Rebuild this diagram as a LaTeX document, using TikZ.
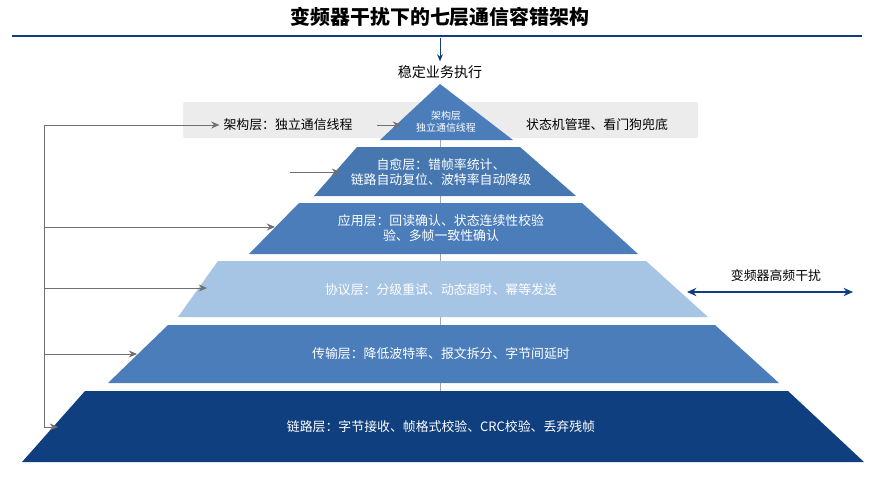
\documentclass[tikz,border=0pt]{standalone}
\usepackage{fontspec}
\setmainfont{Noto Sans CJK SC}
\usetikzlibrary{positioning,arrows.meta}
\definecolor{navy}{HTML}{0F3F7E}
\definecolor{midblue}{HTML}{4A7DBA}
\definecolor{lightblue}{HTML}{A6C4E4}
\definecolor{grayarrow}{HTML}{707070}
\tikzset{
	lbl/.style={text=white, font=\fontsize{11}{13}\selectfont, align=center},
	fb/.style={draw=grayarrow, line width=0.8pt, -{Stealth[length=7pt,width=6pt]}}
}
\begin{document}
\begin{tikzpicture}[x=0.03cm, y=-0.03cm]
			\useasboundingbox (0,0) rectangle (877,477);
			\fill[white] (0,0) rectangle (877,477);
			
			\node[font=\fontsize{17}{20}\selectfont\bfseries] (title) at (440,17) {变频器干扰下的七层通信容错架构};
			\draw[navy, line width=1.6pt] (12,36) -- (862,36);
			\node[font=\fontsize{12}{14}\selectfont] (goal) at (440,72) {稳定业务执行};
			\coordinate (top) at (440,38);
			\draw[navy, line width=0.8pt, -{Stealth[length=6pt,width=5pt]}] (top) -- (goal.north);
			
			\fill[gray!15, rounded corners=2pt] (183,102) rectangle (698,138);
			\draw[gray!70, line width=0.8pt] (440,140) -- (440,391);
			
			\fill[midblue] (440,84) -- (513,140) -- (380,140) -- cycle;
			\fill[midblue!95!black] (357,147) -- (520,147) -- (576,196) -- (314,196) -- cycle;
			\fill[midblue] (299,203) -- (582,203) -- (638,254) -- (249,254) -- cycle;
			\fill[lightblue] (218,261) -- (646,261) -- (708,317) -- (178,317) -- cycle;
			\fill[midblue] (168,325) -- (715,325) -- (779,383) -- (108,383) -- cycle;
			\fill[navy] (85,391) -- (788,391) -- (864,462) -- (22,462) -- cycle;
			
			\node[lbl, font=\fontsize{8.5}{10}\selectfont] (1) at (446,122) {架构层\\独立通信线程};
			\node[font=\fontsize{11}{13}\selectfont] (1l) at (288,125) {架构层：独立通信线程};
			\node[font=\fontsize{11}{13}\selectfont] (1r) at (597,125) {状态机管理、看门狗兜底};
			\node[lbl] (2) at (441,172) {自愈层：错帧率统计、\\链路自动复位、波特率自动降级};
			\node[lbl] (3) at (441,228) {应用层：回读确认、状态连续性校验\\验、多帧一致性确认};
			\node[lbl] (4) at (441,290) {协议层：分级重试、动态超时、幂等发送};
			\node[lbl] (5) at (441,354) {传输层：降低波特率、报文拆分、字节间延时};
			\node[lbl] (6) at (441,427) {链路层：字节接收、帧格式校验、CRC校验、丢弃残帧};
			\node[font=\fontsize{11}{13}\selectfont] (emi) at (776,276) {变频器高频干扰};
			
			\coordinate (f1) at (44,125);
			\coordinate (f3) at (44,227);
			\coordinate (f4) at (44,288);
			\coordinate (f5) at (44,354);
			\coordinate (f6) at (44,427);
			\coordinate (t3) at (275,227);
			\coordinate (t4) at (207,288);
			\coordinate (t5) at (137,354);
			\coordinate (t6) at (58,427);
			\coordinate (a2) at (290,172);
			\coordinate (b2) at (340,172);
			\coordinate (a1) at (377,125);
			\coordinate (b1) at (401,125);
			\coordinate (e1) at (687,292);
			\coordinate (e2) at (853,292);
			
			\draw[draw=grayarrow, line width=0.8pt] (f1) -- (f6);
			\draw[fb] (f1) -- (1l.west);
			\draw[fb] (f3) -- (t3);
			\draw[fb] (f4) -- (t4);
			\draw[fb] (f5) -- (t5);
			\draw[fb] (f6) -- (t6);
			\draw[fb] (a2) -- (b2);
			\draw[fb] (a1) -- (b1);
			\draw[navy, line width=1.6pt, {Stealth[length=8pt,width=7pt]}-{Stealth[length=8pt,width=7pt]}] (e1) -- (e2);
		\end{tikzpicture}
\end{document}
